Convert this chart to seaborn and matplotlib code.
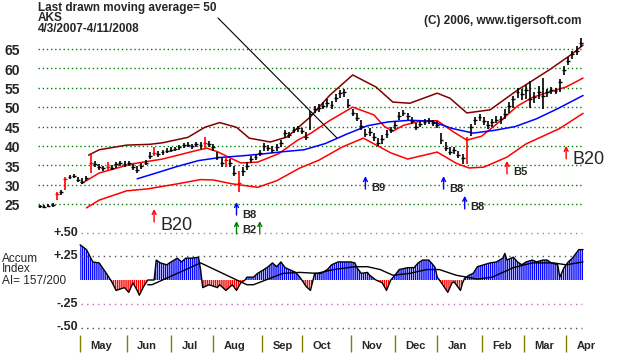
import numpy as np
import matplotlib
matplotlib.use("Agg")
import matplotlib.pyplot as plt
import seaborn as sns

# ================= data (x = trading day since 4/3/2007) =================
bar_days = list(range(0, 257, 2))
closes = [24.4, 24.3, 24.5, 24.8, 27.5, 28.0, 31.5, 32.0, 32.3, 31.2,
          30.8, 31.6, 35.5, 35.2, 34.5, 34.2, 34.6, 34.3, 35.2, 35.5,
          35.3, 35.6, 34.5, 33.8, 34.8, 35.6, 37.5, 38.2, 38.0, 38.3,
          38.8, 39.0, 39.2, 39.6, 40.1, 40.3, 40.0, 40.5, 40.2, 40.8,
          40.6, 39.6, 37.2, 35.6, 36.3, 35.6, 33.0, 30.5, 33.6, 34.8,
          36.6, 37.2, 38.2, 40.0, 39.4, 39.0, 39.6, 40.8, 43.2, 42.8,
          44.2, 44.5, 43.8, 42.3, 48.2, 49.6, 49.9, 50.4, 51.0, 50.6,
          52.4, 53.6, 53.8, 50.6, 48.6, 47.2, 45.2, 43.0, 43.6, 42.2,
          40.8, 41.8, 43.0, 44.2, 45.4, 47.8, 48.5, 47.6, 46.4, 44.8,
          45.6, 46.2, 46.4, 46.0, 45.4, 41.5, 39.4, 38.4, 39.0, 37.6,
          36.8, 41.8, 44.8, 46.6, 47.4, 46.4, 45.4, 46.2, 46.8, 47.0,
          48.2, 50.4, 52.0, 53.8, 53.4, 54.4, 52.0, 52.6, 54.0, 53.0,
          53.8, 54.4, 54.2, 56.5, 59.6, 62.0, 63.6, 64.6, 66.6]
highs = [24.8, 24.7, 24.9, 25.3, 28.2, 28.6, 32.0, 32.6, 32.8, 32.0,
         31.6, 32.2, 38.2, 36.0, 35.2, 34.9, 35.8, 35.0, 35.8, 36.1,
         36.0, 36.2, 35.3, 34.8, 35.5, 36.3, 38.4, 39.8, 38.7, 39.0,
         39.4, 39.6, 39.8, 40.2, 40.7, 41.0, 40.6, 41.1, 41.0, 42.2,
         41.2, 40.4, 38.5, 36.8, 37.4, 36.6, 34.8, 33.5, 34.6, 35.8,
         37.4, 38.0, 39.0, 40.8, 40.2, 39.9, 40.5, 41.6, 44.0, 43.6,
         45.0, 45.2, 44.6, 43.6, 49.0, 50.4, 50.8, 51.4, 52.0, 51.6,
         53.4, 54.4, 54.8, 52.0, 49.6, 48.4, 46.6, 44.4, 44.6, 43.4,
         42.0, 42.8, 44.0, 45.0, 46.4, 48.8, 49.2, 48.4, 47.4, 46.0,
         46.4, 47.0, 47.2, 46.8, 46.4, 43.4, 41.0, 39.6, 39.8, 38.8,
         38.0, 42.4, 45.6, 47.4, 48.2, 47.4, 46.4, 47.0, 47.6, 47.8,
         49.6, 51.4, 53.0, 55.0, 54.6, 55.6, 56.8, 54.0, 55.4, 57.6,
         54.8, 55.2, 55.0, 57.2, 60.6, 63.0, 64.6, 65.8, 67.8]
lows = [24.0, 24.0, 24.1, 24.3, 26.0, 27.2, 28.5, 31.4, 31.6, 30.6,
        30.2, 30.9, 33.0, 34.5, 33.8, 33.5, 33.8, 33.7, 34.4, 34.8,
        34.6, 34.9, 33.8, 33.0, 34.0, 35.0, 36.5, 37.5, 37.2, 37.6,
        38.1, 38.3, 38.6, 39.0, 39.5, 39.6, 39.3, 39.8, 39.2, 39.5,
        39.8, 38.6, 36.4, 34.6, 34.6, 34.5, 32.2, 28.0, 32.2, 33.8,
        35.6, 36.4, 37.4, 38.8, 38.6, 38.2, 38.8, 39.8, 42.0, 42.0,
        43.2, 43.6, 43.0, 41.5, 44.0, 48.6, 48.8, 49.6, 50.0, 49.5,
        51.2, 52.4, 52.6, 49.8, 47.8, 46.4, 44.2, 42.2, 42.6, 41.2,
        40.0, 40.6, 42.0, 43.2, 44.4, 46.6, 47.6, 46.6, 45.6, 44.0,
        44.8, 45.4, 45.6, 45.2, 44.6, 40.6, 38.6, 37.6, 37.8, 36.8,
        35.2, 35.4, 42.6, 45.4, 46.4, 45.4, 44.4, 45.0, 45.8, 45.6,
        47.0, 48.6, 49.8, 52.4, 51.8, 52.2, 49.8, 51.0, 52.0, 49.4,
        52.6, 53.4, 53.4, 54.0, 58.2, 60.8, 62.4, 63.4, 65.4]
red_bar_days = [8, 12, 24, 32, 54, 78, 88, 94, 202]

# moving average (blue) and bands
ma_days = [46, 55, 65, 75, 85, 95, 105, 115, 125, 135, 145, 155, 165, 175, 185, 195,
           205, 215, 225, 235, 245, 257]
ma_vals = [31.5, 33.0, 34.7, 36.2, 37.0, 37.4, 37.9, 38.5, 39.0, 40.6, 43.0, 45.2,
           46.2, 46.6, 46.4, 44.5, 43.3, 44.0, 45.0, 47.0, 49.6, 53.0]
inner_days = [20, 28, 36, 43, 58, 74, 79, 84, 90, 95, 103, 113, 122, 128, 137, 148,
              158, 163, 167, 172, 180, 188, 196, 202, 209, 218, 226, 233, 241, 249, 257]
inner_vals = [30.4, 33.0, 34.2, 35.3, 36.6, 38.8, 39.4, 38.5, 36.9, 35.6, 35.8, 38.0,
              41.5, 43.2, 46.5, 50.0, 48.0, 45.0, 43.8, 45.3, 46.4, 46.5, 43.5, 41.5,
              42.5, 46.5, 50.3, 52.5, 53.9, 55.2, 57.5]
upper_days = [23, 28, 41, 52, 58, 70, 78, 85, 93, 99, 109, 117, 128, 137, 148, 159,
              167, 175, 188, 194, 202, 213, 226, 241, 251, 257]
upper_vals = [37.6, 39.0, 40.2, 40.4, 40.8, 42.2, 44.8, 46.0, 44.8, 42.0, 41.0, 42.3,
              47.5, 53.0, 58.3, 55.2, 51.3, 51.0, 53.6, 52.3, 48.5, 49.3, 54.4, 59.6,
              63.4, 66.0]
lower_days = [22, 28, 41, 51, 65, 76, 82, 91, 103, 112, 123, 132, 143, 153, 166, 174,
              188, 197, 203, 210, 221, 230, 246, 257]
lower_vals = [24.0, 26.0, 28.4, 28.9, 30.2, 31.3, 31.2, 30.2, 29.3, 31.0, 34.3, 36.3,
              39.7, 42.0, 38.2, 36.6, 38.4, 35.5, 34.3, 34.5, 37.1, 40.5, 44.5, 48.4]

# accumulation index and its moving average
ai_days = [19, 22, 25, 28, 32, 34, 36, 40, 42, 44, 46, 47, 49, 51, 54, 55, 57, 60, 62,
           65, 67, 69, 72, 75, 76, 77, 80, 84, 85, 88, 91, 93, 95, 97, 98, 101, 103,
           106, 108, 110, 112, 114, 116, 118, 121, 123, 126, 128, 130, 133, 136, 138,
           141, 143, 147, 149, 150, 152, 155, 156, 159, 162, 164, 166, 168, 170, 174,
           177, 179, 181, 184, 186, 187, 188, 190, 193, 195, 196, 199, 200, 201, 203,
           205, 207, 210, 213, 216, 219, 220, 221, 224, 226, 228, 230, 233, 235, 238,
           240, 242, 245, 246, 248, 250, 252, 255, 257]
ai_vals = [0.37, 0.32, 0.19, 0.18, 0.05, -0.02, -0.11, -0.08, -0.13, -0.03, -0.11, -0.16,
           -0.07, 0.0, 0.0, 0.21, 0.18, 0.16, 0.19, 0.23, 0.19, 0.23, 0.23, 0.24, 0.11,
           -0.08, -0.05, -0.08, -0.05, -0.11, -0.05, -0.11, -0.03, 0.0, 0.03, 0.03, 0.07,
           0.11, 0.14, 0.18, 0.14, 0.19, 0.13, 0.11, 0.08, 0.03, -0.07, -0.11, 0.07, 0.07,
           0.11, 0.16, 0.19, 0.19, 0.19, 0.18, 0.13, 0.07, 0.08, 0.05, 0.0, -0.03, -0.11,
           0.0, 0.05, 0.11, 0.13, 0.13, 0.18, 0.21, 0.21, 0.16, 0.13, 0.03, -0.03, -0.13,
           -0.03, -0.02, -0.11, -0.03, 0.02, 0.05, 0.07, 0.14, 0.16, 0.18, 0.19, 0.23,
           0.28, 0.21, 0.24, 0.19, 0.16, 0.19, 0.21, 0.19, 0.21, 0.21, 0.18, 0.16, 0.03,
           0.13, 0.19, 0.23, 0.32, 0.32]
ai_ma_days = [51, 53, 76, 95, 98, 101, 115, 123, 131, 139, 149, 155, 161, 167, 175,
              183, 189, 197, 202, 207, 214, 224, 233, 243, 249, 257]
ai_ma_vals = [-0.05, -0.05, 0.18, -0.02, -0.05, -0.05, 0.07, 0.08, 0.07, 0.11, 0.14,
              0.14, 0.11, 0.05, 0.07, 0.11, 0.11, 0.05, 0.03, 0.01, 0.03, 0.13, 0.18,
              0.18, 0.16, 0.19]

price_levels = [25, 30, 35, 40, 45, 50, 55, 60, 65]
ai_levels = [0.50, 0.25, -0.25, -0.50]
ai_level_labels = ['+.50', '+.25', '-.25', '-.50']
month_names = ['May', 'Jun', 'Jul', 'Aug', 'Sep', 'Oct', 'Nov', 'Dec', 'Jan', 'Feb', 'Mar', 'Apr']
month_start_days = [19, 41, 62, 82, 105, 124, 147, 168, 188, 209, 229, 249]

# buy signals: day, price at arrow head, colour, label
sig_days = [54, 93, 93, 104, 154, 191, 201, 221, 249]
sig_heads = [23.7, 25.5, 20.6, 20.6, 32.2, 32.2, 27.1, 36.1, 40.0]
sig_colors = ['#ff0000', '#0000ff', '#008000', '#008000', '#0000ff', '#0000ff',
              '#0000ff', '#ff0000', '#ff0000']
sig_labels = ['B20', 'B8', 'B2', '', 'B9', 'B8', 'B8', 'B5', 'B20']
sig_label_drop = [16, 13, 9, 0, 12, 13, 11, 11, 14]

# ================= layout (pixels of the 624x354 picture) =================
W, H = 624, 354
X0, XS = 40, 2.113        # pixel of day 0, pixels per trading day
PY25, PPX = 204, 3.875    # pixel row of $25, pixels per dollar
AY0, APX = 280, 95        # pixel row of AI = 0, pixels per 1.0 of AI

sns.set_style("white")
plt.rcParams['font.family'] = ['Liberation Sans', 'DejaVu Sans']
plt.rcParams['hatch.linewidth'] = 1.0

fig = plt.figure(figsize=(W / 100, H / 100), dpi=100)
ax = fig.add_axes([0, 0, 1, 1])
ax.set_xlim(-X0 / XS, (W - X0) / XS)
ax.set_ylim(25 - (H - PY25) / PPX, 25 + PY25 / PPX)
ax.axis('off')
axa = fig.add_axes([0, 0, 1, 1], sharex=ax)
axa.set_ylim(-(H - AY0) / APX, AY0 / APX)
axa.axis('off')
axa.patch.set_visible(False)

# ---- price panel ----
ax.hlines(price_levels, -1, 256.5, colors='#008000', linestyles=(0, (1, 2)), linewidth=1)
for p in price_levels:
    ax.text(-9.4, p - 0.6, str(p), ha='right', va='center', fontsize=10, fontweight='bold')

sns.lineplot(x=upper_days, y=upper_vals, ax=ax, color='#800000', linewidth=1.1, estimator=None)
sns.lineplot(x=lower_days, y=lower_vals, ax=ax, color='#ff0000', linewidth=1.1, estimator=None)
sns.lineplot(x=inner_days, y=inner_vals, ax=ax, color='#ff0000', linewidth=1.1, estimator=None)
sns.lineplot(x=ma_days, y=ma_vals, ax=ax, color='#0000ff', linewidth=1.1, estimator=None)

bd = np.array(bar_days)
bar_colors = ['#ff0000' if d in red_bar_days else 'black' for d in bar_days]
ax.vlines(bd, lows, highs, colors=bar_colors, linewidth=1.2)
ax.hlines(closes, bd - 0.9, bd + 0.9, colors=bar_colors, linewidth=1)

for d, hp, c, lab, drop in zip(sig_days, sig_heads, sig_colors, sig_labels, sig_label_drop):
    ax.annotate('', xy=(d, hp), xytext=(0, -13), textcoords='offset pixels',
                arrowprops=dict(arrowstyle='->', color=c, lw=1, mutation_scale=7,
                                shrinkA=0, shrinkB=0))
    if lab:
        big = lab == 'B20'
        ax.annotate(lab, xy=(d, hp), xytext=(6, -drop), textcoords='offset pixels',
                    ha='left', va='center', fontsize=13 if big else 8,
                    fontweight='normal' if big else 'bold')

# ---- accumulation index panel ----
axa.hlines(ai_levels, 19.5, 256.5, colors=['#c070c0', '#505050', '#c070c0', '#505050'],
           linestyles=(0, (1, 3)), linewidth=1)
for v, lab in zip(ai_levels, ai_level_labels):
    axa.text(18, v, lab, ha='right', va='center', fontsize=9, fontweight='bold')

ad = np.array(ai_days)
av = np.array(ai_vals)
axa.fill_between(ad, 0, av, where=av >= 0, interpolate=True, facecolor='none',
                 edgecolor='#0000ff', hatch='|' * 8, linewidth=0)
axa.fill_between(ad, 0, av, where=av <= 0, interpolate=True, facecolor='none',
                 edgecolor='#ff0000', hatch='|' * 8, linewidth=0)
sns.lineplot(x=ai_days, y=ai_vals, ax=axa, color='black', linewidth=1, estimator=None)
sns.lineplot(x=ai_ma_days, y=ai_ma_vals, ax=axa, color='black', linewidth=1, estimator=None)

for py, line in zip([259, 269.5, 280.5], ['Accum', 'Index', 'AI= 157/200']):
    fig.text(2 / W, 1 - py / H, line, ha='left', va='center', fontsize=8.5)

# ---- month axis ----
ax.vlines(month_start_days, 0.006, 0.054, transform=ax.get_xaxis_transform(),
          colors='#808000', linewidth=1)
for d, m in zip(month_start_days, month_names):
    ax.text(d + 5, 1 - 346 / H, m, transform=ax.get_xaxis_transform(),
            ha='left', va='center', fontsize=8, fontweight='bold')

# ---- header ----
fig.text(38 / W, 1 - 2 / H, 'Last drawn moving average= 50\nAKS\n4/3/2007-4/11/2008',
         ha='left', va='top', fontsize=8.5, fontweight='bold', linespacing=0.82)
fig.text(582 / W, 1 - 21 / H, '(C) 2006, www.tigersoft.com', ha='right', va='center',
         fontsize=8.5, fontweight='bold')
fig.add_artist(matplotlib.patches.ConnectionPatch(
    (218, H - 18), (337, H - 138), 'figure pixels', 'figure pixels',
    color='black', linewidth=0.8))

fig.savefig('out.png', dpi=100)
